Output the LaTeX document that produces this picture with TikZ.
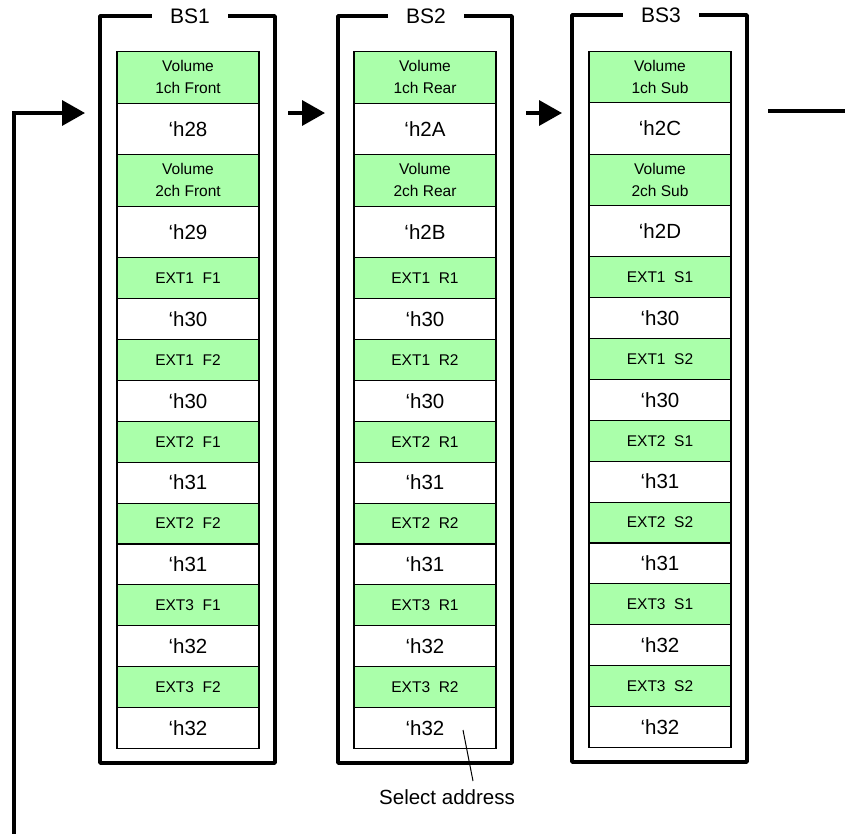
\documentclass[tikz,border=0pt]{standalone}
\usepackage{fontspec}
\setmainfont{Liberation Sans}
\usetikzlibrary{arrows.meta}
\definecolor{cellgreen}{RGB}{170,255,170}
\begin{document}
\begin{tikzpicture}[x=1pt,y=-1pt,
  cell/.style={draw=black, line width=1.1pt, minimum width=142pt, inner sep=0pt, anchor=north, align=center},
  lab/.style={cell, fill=cellgreen, font=\fontsize{15.5}{22}\selectfont},
  hex/.style={cell, fill=white, font=\fontsize{20.5}{24}\selectfont},
  frame/.style={line width=3.5pt, line join=round},
  title/.style={font=\fontsize{21}{24}\selectfont, minimum width=76pt, inner sep=0pt, anchor=center},
  conn/.style={line width=3.5pt, -{Triangle[length=23pt,width=25pt]}},
  lead/.style={line width=1pt}
]
\useasboundingbox (0,0) rectangle (845,833);

% BS1
\foreach \t [count=\k] in {{Volume\\1ch Front},{‘h28},{Volume\\2ch Front},{‘h29},
  {EXT1\ \ F1},{‘h30},{EXT1\ \ F2},{‘h30},{EXT2\ \ F1},{‘h31},{EXT2\ \ F2},{‘h31},
  {EXT3\ \ F1},{‘h32},{EXT3\ \ F2},{‘h32}} {
  \pgfmathsetmacro\yy{\k<=4 ? 51+51.5*(\k-1) : 257+40.917*(\k-5)}
  \pgfmathsetmacro\hh{\k<=4 ? 51.5 : 40.917}
  \ifodd\k\tikzset{cur/.style={lab}}\else\tikzset{cur/.style={hex}}\fi
  \node[cur, minimum height=\hh pt] (a\k) at (188,\yy) {\t};
}
% BS2
\foreach \t [count=\k] in {{Volume\\1ch Rear},{‘h2A},{Volume\\2ch Rear},{‘h2B},
  {EXT1\ \ R1},{‘h30},{EXT1\ \ R2},{‘h30},{EXT2\ \ R1},{‘h31},{EXT2\ \ R2},{‘h31},
  {EXT3\ \ R1},{‘h32},{EXT3\ \ R2},{‘h32}} {
  \pgfmathsetmacro\yy{\k<=4 ? 51+51.5*(\k-1) : 257+40.917*(\k-5)}
  \pgfmathsetmacro\hh{\k<=4 ? 51.5 : 40.917}
  \ifodd\k\tikzset{cur/.style={lab}}\else\tikzset{cur/.style={hex}}\fi
  \node[cur, minimum height=\hh pt] (b\k) at (425,\yy) {\t};
}
% BS3
\foreach \t [count=\k] in {{Volume\\1ch Sub},{‘h2C},{Volume\\2ch Sub},{‘h2D},
  {EXT1\ \ S1},{‘h30},{EXT1\ \ S2},{‘h30},{EXT2\ \ S1},{‘h31},{EXT2\ \ S2},{‘h31},
  {EXT3\ \ S1},{‘h32},{EXT3\ \ S2},{‘h32}} {
  \pgfmathsetmacro\yy{\k<=4 ? 51+51.25*(\k-1) : 256+40.917*(\k-5)}
  \pgfmathsetmacro\hh{\k<=4 ? 51.25 : 40.917}
  \ifodd\k\tikzset{cur/.style={lab}}\else\tikzset{cur/.style={hex}}\fi
  \node[cur, minimum height=\hh pt] (c\k) at (660,\yy) {\t};
}

% frames with titles
\node[title] (t1) at (190,16) {BS1};
\draw[frame] (t1.west) -- (100,16) -- (100,763) -- (275,763) -- (275,16) -- (t1.east);
\node[title] (t2) at (426,16) {BS2};
\draw[frame] (t2.west) -- (338,16) -- (338,763) -- (512,763) -- (512,16) -- (t2.east);
\node[title] (t3) at (661,15) {BS3};
\draw[frame] (t3.west) -- (572,15) -- (572,762) -- (747,762) -- (747,15) -- (t3.east);

% connectors
\coordinate (fb0) at (14,835);
\coordinate (in1) at (85,113);
\coordinate (out1) at (288,113);
\coordinate (in2) at (325,113);
\coordinate (out2) at (526,113);
\coordinate (in3) at (562,113);
\coordinate (out3) at (768,111);
\coordinate (outend) at (847,111);
\draw[conn] (fb0) |- (in1);
\draw[conn] (out1) -- (in2);
\draw[conn] (out2) -- (in3);
\draw[line width=3.5pt] (out3) -- (outend);

% select address
\node[font=\fontsize{20.5}{24}\selectfont] (sel) at (447,797) {Select address};
\coordinate (selp) at (463,730);
\coordinate (selq) at (473,781);
\draw[lead] (selp) -- (selq);
\end{tikzpicture}
\end{document}
